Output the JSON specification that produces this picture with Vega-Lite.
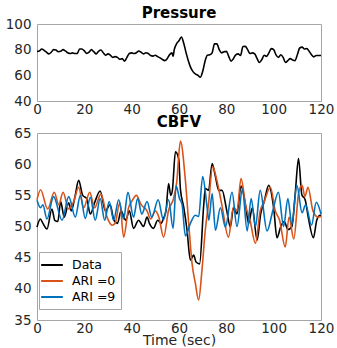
{
  "$schema": "https://vega.github.io/schema/vega-lite/v6.json",
  "padding": {"left": 4, "top": 5, "right": 2, "bottom": 0},
  "background": "white",
  "config": {
    "font": "DejaVu Sans",
    "view": {"stroke": "#a6a6a6", "strokeWidth": 1},
    "axis": {"labelFont": "DejaVu Sans", "labelFontSize": 13.5, "labelColor": "#262626", "domain": false, "ticks": false, "grid": false, "labelPadding": 3, "labelFlush": false, "titleFont": "DejaVu Sans", "titleFontSize": 14, "titleColor": "#262626", "titleFontWeight": "normal"},
    "axisY": {"labelPadding": 6},
    "axisX": {"labelPadding": 1},
    "title": {"font": "DejaVu Sans", "fontSize": 15, "fontWeight": "bold", "color": "#000000", "offset": -4},
    "concat": {"spacing": -2}
  },
  "datasets": {
    "pressure": [
      {"t":0,"p":78.7},{"t":1,"p":79},{"t":2,"p":80.5},{"t":3,"p":79.5},{"t":4,"p":78},{"t":5,"p":76.7},{"t":6,"p":78},{"t":7,"p":80},{"t":8,"p":79.7},{"t":9,"p":78.4},{"t":10,"p":78.7},{"t":11,"p":80},{"t":12,"p":79},{"t":13,"p":77.6},{"t":14,"p":77},{"t":15,"p":77.5},{"t":16,"p":77},{"t":17,"p":77},{"t":18,"p":80.5},{"t":19,"p":80.5},{"t":20,"p":79},{"t":21,"p":77},{"t":22,"p":78},{"t":23,"p":80},{"t":24,"p":78.4},{"t":25,"p":76.7},{"t":26,"p":78.7},{"t":27,"p":79.7},{"t":28,"p":77.6},{"t":29,"p":75.7},{"t":30,"p":76.7},{"t":31,"p":75.7},{"t":32,"p":74},{"t":33,"p":74.6},{"t":34,"p":74},{"t":35,"p":72.5},{"t":36,"p":73},{"t":37,"p":71},{"t":38,"p":74},{"t":39,"p":77},{"t":40,"p":77.5},{"t":41,"p":77},{"t":42,"p":77.6},{"t":43,"p":79},{"t":44,"p":78},{"t":45,"p":76.7},{"t":46,"p":77.6},{"t":47,"p":77},{"t":48,"p":75.4},{"t":49,"p":75},{"t":50,"p":75.7},{"t":51,"p":74.6},{"t":52,"p":73.6},{"t":53,"p":72.3},{"t":54,"p":71.5},{"t":55,"p":73},{"t":56,"p":76},{"t":57,"p":77.5},{"t":57.5,"p":75},{"t":58,"p":80},{"t":59,"p":84.7},{"t":60,"p":87},{"t":61,"p":89.9},{"t":62,"p":85},{"t":63,"p":77.5},{"t":64,"p":71},{"t":65,"p":65.8},{"t":66,"p":62.7},{"t":67,"p":61},{"t":68,"p":60},{"t":69,"p":58.5},{"t":70,"p":63},{"t":71,"p":71},{"t":72,"p":75.7},{"t":73,"p":76},{"t":74,"p":77.5},{"t":75,"p":84.5},{"t":76,"p":84.5},{"t":77,"p":80},{"t":78,"p":77.5},{"t":79,"p":78.4},{"t":80,"p":78.7},{"t":81,"p":74.8},{"t":82,"p":71},{"t":83,"p":73},{"t":84,"p":76},{"t":85,"p":76.7},{"t":86,"p":75.4},{"t":87,"p":82.4},{"t":88,"p":82.6},{"t":89,"p":80},{"t":90,"p":77},{"t":91,"p":77.5},{"t":92,"p":76.7},{"t":93,"p":73},{"t":94,"p":70},{"t":95,"p":72.3},{"t":96,"p":75.7},{"t":97,"p":74.8},{"t":98,"p":77.5},{"t":99,"p":80.8},{"t":100,"p":80},{"t":101,"p":76},{"t":102,"p":74},{"t":103,"p":76},{"t":104,"p":74},{"t":105,"p":70},{"t":106,"p":71.5},{"t":107,"p":73},{"t":108,"p":72},{"t":109,"p":71.5},{"t":110,"p":76},{"t":111,"p":81.3},{"t":112,"p":82},{"t":113,"p":80.5},{"t":114,"p":80.8},{"t":115,"p":78.7},{"t":116,"p":76},{"t":117,"p":74.4},{"t":118,"p":75.4},{"t":119,"p":75.4},{"t":120,"p":75.4}
    ],
    "cbfv": [
      {"s":"Data","t":0,"v":49.9},{"s":"Data","t":1.4,"v":51.2},{"s":"Data","t":2.5,"v":50.5},{"s":"Data","t":4.2,"v":49.6},{"s":"Data","t":6.3,"v":52.8},{"s":"Data","t":7.5,"v":51},{"s":"Data","t":8.8,"v":50.8},{"s":"Data","t":10,"v":54},{"s":"Data","t":11.5,"v":51.5},{"s":"Data","t":13.4,"v":53.8},{"s":"Data","t":14.5,"v":52.5},{"s":"Data","t":16,"v":54.7},{"s":"Data","t":17.6,"v":57.4},{"s":"Data","t":19.3,"v":55},{"s":"Data","t":21,"v":54.5},{"s":"Data","t":22.5,"v":52},{"s":"Data","t":24.5,"v":54},{"s":"Data","t":26.7,"v":55.7},{"s":"Data","t":28.9,"v":52.5},{"s":"Data","t":30.9,"v":53.5},{"s":"Data","t":32.5,"v":51},{"s":"Data","t":34,"v":50.5},{"s":"Data","t":35.5,"v":52.5},{"s":"Data","t":37.5,"v":51},{"s":"Data","t":39,"v":52.5},{"s":"Data","t":40.8,"v":49.7},{"s":"Data","t":42.9,"v":51},{"s":"Data","t":45,"v":50},{"s":"Data","t":46.5,"v":51.5},{"s":"Data","t":47.5,"v":50.5},{"s":"Data","t":49.2,"v":49.7},{"s":"Data","t":51,"v":51},{"s":"Data","t":52.5,"v":50.5},{"s":"Data","t":53.4,"v":51.3},{"s":"Data","t":54.5,"v":52.5},{"s":"Data","t":55.6,"v":56.9},{"s":"Data","t":56.5,"v":55},{"s":"Data","t":57.2,"v":55.8},{"s":"Data","t":58.5,"v":62},{"s":"Data","t":59.9,"v":60.8},{"s":"Data","t":60.6,"v":56},{"s":"Data","t":62,"v":53.1},{"s":"Data","t":63.4,"v":49.4},{"s":"Data","t":64.8,"v":44.6},{"s":"Data","t":66.2,"v":45.4},{"s":"Data","t":67.2,"v":44.3},{"s":"Data","t":68.7,"v":44},{"s":"Data","t":70.4,"v":53.2},{"s":"Data","t":71.1,"v":56.1},{"s":"Data","t":72.5,"v":55.8},{"s":"Data","t":74,"v":60.1},{"s":"Data","t":75.4,"v":58},{"s":"Data","t":76.8,"v":55.8},{"s":"Data","t":78.2,"v":55.8},{"s":"Data","t":80.2,"v":52.5},{"s":"Data","t":81.7,"v":49.9},{"s":"Data","t":83,"v":53},{"s":"Data","t":84.5,"v":52},{"s":"Data","t":86.2,"v":56.5},{"s":"Data","t":88.3,"v":53},{"s":"Data","t":89.4,"v":50.5},{"s":"Data","t":91,"v":53},{"s":"Data","t":93,"v":47.8},{"s":"Data","t":94.5,"v":52},{"s":"Data","t":96,"v":54},{"s":"Data","t":97.9,"v":56.6},{"s":"Data","t":100,"v":53},{"s":"Data","t":101.4,"v":48.2},{"s":"Data","t":103,"v":50},{"s":"Data","t":104.5,"v":50.8},{"s":"Data","t":106,"v":49.5},{"s":"Data","t":107.7,"v":50},{"s":"Data","t":109.1,"v":55.2},{"s":"Data","t":110.5,"v":60.9},{"s":"Data","t":111.9,"v":55.1},{"s":"Data","t":113.3,"v":54.3},{"s":"Data","t":114.7,"v":51.3},{"s":"Data","t":116.8,"v":48.2},{"s":"Data","t":118.2,"v":51},{"s":"Data","t":119.6,"v":51.8},{"s":"Data","t":120,"v":51.8},
      {"s":"ARI =0","t":0,"v":54.3},{"s":"ARI =0","t":1.5,"v":55.9},{"s":"ARI =0","t":4.5,"v":52.8},{"s":"ARI =0","t":7.3,"v":55.5},{"s":"ARI =0","t":9.2,"v":53.5},{"s":"ARI =0","t":11,"v":55.5},{"s":"ARI =0","t":13.4,"v":52.8},{"s":"ARI =0","t":15.5,"v":54},{"s":"ARI =0","t":17.6,"v":56.3},{"s":"ARI =0","t":19.7,"v":53},{"s":"ARI =0","t":22.3,"v":55.5},{"s":"ARI =0","t":24.3,"v":53},{"s":"ARI =0","t":27,"v":55.2},{"s":"ARI =0","t":29.6,"v":51.5},{"s":"ARI =0","t":31.7,"v":50.2},{"s":"ARI =0","t":33,"v":50.5},{"s":"ARI =0","t":35,"v":53.8},{"s":"ARI =0","t":36.6,"v":48.3},{"s":"ARI =0","t":38.7,"v":53},{"s":"ARI =0","t":40,"v":54},{"s":"ARI =0","t":42,"v":55},{"s":"ARI =0","t":44,"v":53.5},{"s":"ARI =0","t":46.5,"v":52.5},{"s":"ARI =0","t":48,"v":51.2},{"s":"ARI =0","t":50,"v":52.5},{"s":"ARI =0","t":51.5,"v":51.5},{"s":"ARI =0","t":53.5,"v":48.3},{"s":"ARI =0","t":55.6,"v":52.6},{"s":"ARI =0","t":57.7,"v":54.5},{"s":"ARI =0","t":59,"v":57},{"s":"ARI =0","t":60.6,"v":63.7},{"s":"ARI =0","t":62.7,"v":57.4},{"s":"ARI =0","t":64.1,"v":50.5},{"s":"ARI =0","t":65.5,"v":44.1},{"s":"ARI =0","t":66.9,"v":40.9},{"s":"ARI =0","t":68.3,"v":38.2},{"s":"ARI =0","t":69.7,"v":43},{"s":"ARI =0","t":71.1,"v":49.4},{"s":"ARI =0","t":72.5,"v":53.7},{"s":"ARI =0","t":74.2,"v":59.6},{"s":"ARI =0","t":76,"v":57.4},{"s":"ARI =0","t":78.1,"v":53.5},{"s":"ARI =0","t":80.9,"v":48.3},{"s":"ARI =0","t":83,"v":53.1},{"s":"ARI =0","t":84.5,"v":52.5},{"s":"ARI =0","t":86.2,"v":57.7},{"s":"ARI =0","t":88.3,"v":53.1},{"s":"ARI =0","t":90,"v":51},{"s":"ARI =0","t":92.3,"v":47.3},{"s":"ARI =0","t":94.3,"v":52.5},{"s":"ARI =0","t":96,"v":54},{"s":"ARI =0","t":98.6,"v":56.3},{"s":"ARI =0","t":100.7,"v":52.5},{"s":"ARI =0","t":102.5,"v":51},{"s":"ARI =0","t":104.9,"v":46.7},{"s":"ARI =0","t":106.5,"v":51.5},{"s":"ARI =0","t":108.5,"v":48},{"s":"ARI =0","t":110.6,"v":55.5},{"s":"ARI =0","t":112,"v":56.6},{"s":"ARI =0","t":113.2,"v":54.8},{"s":"ARI =0","t":114.5,"v":56.3},{"s":"ARI =0","t":116.6,"v":52.5},{"s":"ARI =0","t":118.7,"v":51.5},{"s":"ARI =0","t":120,"v":51.6},
      {"s":"ARI =9","t":0,"v":54.2},{"s":"ARI =9","t":1.5,"v":53},{"s":"ARI =9","t":2.5,"v":53.5},{"s":"ARI =9","t":4.2,"v":51.2},{"s":"ARI =9","t":7,"v":54.8},{"s":"ARI =9","t":10.6,"v":51},{"s":"ARI =9","t":13.4,"v":54.8},{"s":"ARI =9","t":16.2,"v":51.5},{"s":"ARI =9","t":18.3,"v":55},{"s":"ARI =9","t":20.4,"v":51.3},{"s":"ARI =9","t":22.5,"v":54.7},{"s":"ARI =9","t":24.6,"v":51},{"s":"ARI =9","t":26.7,"v":54.5},{"s":"ARI =9","t":28.6,"v":51},{"s":"ARI =9","t":30.5,"v":54},{"s":"ARI =9","t":32.4,"v":51},{"s":"ARI =9","t":34.5,"v":54.3},{"s":"ARI =9","t":36.6,"v":51.2},{"s":"ARI =9","t":38.4,"v":55.5},{"s":"ARI =9","t":40.8,"v":51.5},{"s":"ARI =9","t":42.5,"v":54.5},{"s":"ARI =9","t":44.3,"v":52},{"s":"ARI =9","t":46.5,"v":54},{"s":"ARI =9","t":48.5,"v":51.5},{"s":"ARI =9","t":51.2,"v":54.3},{"s":"ARI =9","t":53.4,"v":51},{"s":"ARI =9","t":55.6,"v":54.3},{"s":"ARI =9","t":57.5,"v":49.7},{"s":"ARI =9","t":58.8,"v":56.5},{"s":"ARI =9","t":60.2,"v":54.5},{"s":"ARI =9","t":61.3,"v":53.5},{"s":"ARI =9","t":62.7,"v":48.5},{"s":"ARI =9","t":64.8,"v":50.5},{"s":"ARI =9","t":66.9,"v":51.8},{"s":"ARI =9","t":68.3,"v":51.6},{"s":"ARI =9","t":70,"v":58},{"s":"ARI =9","t":71.9,"v":53},{"s":"ARI =9","t":72.6,"v":51},{"s":"ARI =9","t":74,"v":55.3},{"s":"ARI =9","t":75.4,"v":49.4},{"s":"ARI =9","t":77.5,"v":53},{"s":"ARI =9","t":79.6,"v":49.9},{"s":"ARI =9","t":82.4,"v":55.5},{"s":"ARI =9","t":84.5,"v":50},{"s":"ARI =9","t":86.8,"v":56},{"s":"ARI =9","t":88.8,"v":49.3},{"s":"ARI =9","t":90.5,"v":54.5},{"s":"ARI =9","t":92.3,"v":50},{"s":"ARI =9","t":94.3,"v":55.8},{"s":"ARI =9","t":97.2,"v":49.3},{"s":"ARI =9","t":99.6,"v":52.5},{"s":"ARI =9","t":102,"v":55.5},{"s":"ARI =9","t":104.2,"v":50},{"s":"ARI =9","t":106,"v":54.5},{"s":"ARI =9","t":107.7,"v":50.3},{"s":"ARI =9","t":109.8,"v":56.6},{"s":"ARI =9","t":112,"v":52.2},{"s":"ARI =9","t":113.5,"v":53.5},{"s":"ARI =9","t":116,"v":50.2},{"s":"ARI =9","t":118,"v":53.9},{"s":"ARI =9","t":120,"v":52}
    ]
  },
  "vconcat": [
    {
      "title": "Pressure",
      "width": 284,
      "height": 77,
      "data": {"name": "pressure"},
      "mark": {"type": "line", "color": "#000000", "strokeWidth": 1.6, "interpolate": "monotone"},
      "encoding": {
        "x": {"field": "t", "type": "quantitative", "scale": {"domain": [0, 120], "nice": false}, "axis": {"values": [0, 20, 40, 60, 80, 100, 120], "title": null}},
        "y": {"field": "p", "type": "quantitative", "scale": {"domain": [40, 100], "nice": false}, "axis": {"values": [40, 60, 80, 100], "title": null}}
      }
    },
    {
      "title": "CBFV",
      "width": 284,
      "height": 187,
      "data": {"name": "cbfv"},
      "mark": {"type": "line", "strokeWidth": 1.6, "interpolate": "monotone"},
      "encoding": {
        "x": {"field": "t", "type": "quantitative", "scale": {"domain": [0, 120], "nice": false}, "axis": {"values": [0, 20, 40, 60, 80, 100, 120], "title": "Time (sec)", "titlePadding": -1}},
        "y": {"field": "v", "type": "quantitative", "scale": {"domain": [35, 65], "nice": false}, "axis": {"values": [35, 40, 45, 50, 55, 60, 65], "title": null}},
        "color": {
          "field": "s", "type": "nominal",
          "scale": {"domain": ["Data", "ARI =0", "ARI =9"], "range": ["#000000", "#D95319", "#0072BD"]},
          "legend": {"title": null, "orient": "none", "legendX": 2, "legendY": 228, "symbolType": "M-1.55,0H1.55", "symbolSize": 196, "symbolStrokeWidth": 2, "labelFontSize": 12.5, "labelColor": "#000000", "labelFont": "DejaVu Sans", "fillColor": "white", "strokeColor": "#a6a6a6", "padding": 5, "rowPadding": 1, "labelOffset": 12}
        },
        "order": {"field": "s"}
      }
    }
  ]
}
